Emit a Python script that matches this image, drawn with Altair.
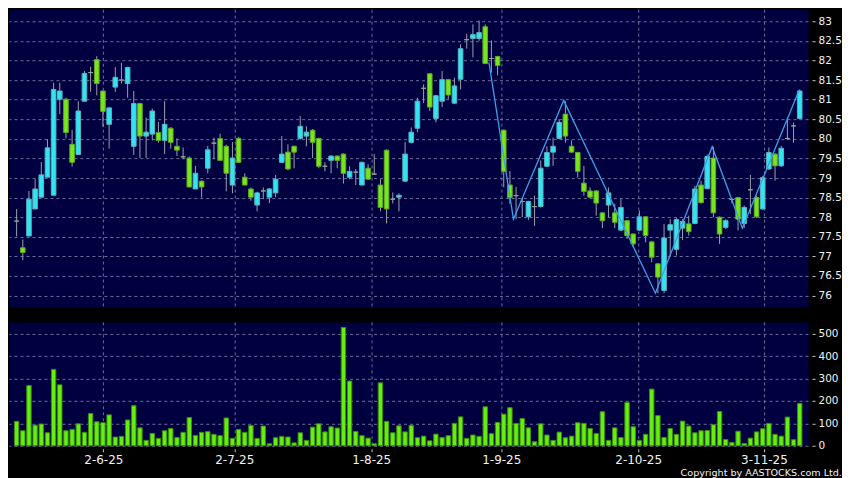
import altair as alt
import pandas as pd

# ---------------- data ----------------
idx = list(range(1, 129))
opens = [77.90, 77.22, 77.52, 78.21, 78.51, 79.02, 78.56, 81.01, 81.01, 79.86,
         79.60, 80.96, 81.69, 82.02, 81.22, 80.37, 81.32, 81.50, 81.41, 79.81,
         80.90, 80.07, 80.12, 80.16, 79.96, 80.27, 79.81, 79.54, 79.51, 78.72,
         78.92, 79.25, 79.89, 80.01, 79.81, 78.82, 80.01, 79.02, 78.72, 78.31,
         78.67, 78.51, 78.62, 79.40, 79.66, 79.81, 80.01, 80.07, 80.22, 80.01,
         79.30, 79.45, 79.56, 79.61, 79.02, 79.15, 78.82, 79.25, 79.10, 78.82,
         79.71, 78.46, 78.51, 78.92, 79.91, 80.27, 81.29, 81.66, 80.52, 80.96,
         81.51, 80.91, 81.52, 82.53, 82.56, 82.56, 82.86, 82.05, 82.10, 80.22,
         78.82, 78.55, 78.40, 78.01, 78.27, 78.27, 79.30, 79.66, 80.01, 80.63,
         79.81, 79.65, 78.87, 78.67, 78.67, 78.11, 78.31, 78.11, 77.67, 77.91,
         77.57, 77.67, 78.01, 77.37, 76.81, 76.13, 77.67, 77.18, 77.72, 77.83,
         77.84, 78.82, 78.73, 79.51, 78.00, 77.74, 78.45, 78.50, 77.84, 78.70,
         78.50, 78.21, 79.23, 79.61, 79.31, 80.01, 80.33, 80.52]
highs = [78.21, 77.43, 78.67, 78.97, 79.41, 79.99, 81.43, 81.43, 81.05, 80.23,
         80.96, 81.73, 81.84, 82.11, 81.22, 80.80, 81.83, 81.94, 81.84, 81.22,
         80.92, 80.54, 80.77, 80.43, 80.96, 80.30, 80.01, 79.78, 79.55, 79.31,
         78.94, 79.82, 80.03, 80.13, 79.85, 79.92, 80.05, 79.12, 78.76, 78.65,
         78.76, 78.74, 79.08, 80.07, 79.86, 79.83, 80.58, 80.32, 80.25, 80.03,
         79.40, 79.58, 79.58, 79.63, 79.30, 79.23, 79.42, 79.35, 79.61, 78.97,
         79.73, 78.63, 78.61, 79.92, 80.29, 81.05, 81.39, 81.68, 81.12, 81.73,
         81.53, 81.56, 82.41, 82.68, 82.92, 83.02, 82.92, 82.51, 82.12, 80.24,
         79.18, 78.77, 78.50, 78.42, 78.55, 79.45, 79.81, 80.03, 80.50, 80.96,
         79.96, 79.67, 79.31, 78.76, 78.69, 78.13, 78.76, 78.34, 78.46, 77.93,
         77.59, 78.17, 78.03, 77.39, 76.83, 77.83, 77.95, 77.99, 77.95, 78.04,
         78.80, 78.93, 79.60, 79.80, 78.02, 77.95, 78.50, 78.52, 78.30, 79.08,
         78.55, 79.05, 79.78, 79.63, 79.82, 80.54, 80.42, 81.26]
lows = [77.51, 76.90, 77.52, 78.21, 78.51, 79.02, 78.56, 80.63, 80.01, 79.29,
        79.60, 80.96, 81.20, 81.11, 80.30, 79.75, 81.20, 81.41, 81.05, 79.59,
        79.51, 79.51, 79.96, 79.90, 79.61, 79.75, 79.56, 79.48, 78.77, 78.72,
        78.50, 79.12, 79.48, 79.45, 78.66, 78.61, 79.40, 78.82, 78.42, 78.15,
        78.46, 78.36, 78.51, 79.38, 79.20, 79.25, 79.98, 79.81, 79.51, 79.25,
        79.17, 79.12, 79.25, 78.86, 78.97, 78.82, 78.82, 78.95, 79.08, 78.15,
        77.84, 78.35, 78.15, 78.90, 79.88, 80.17, 80.91, 80.71, 80.42, 80.81,
        81.01, 80.89, 81.26, 82.30, 82.08, 82.50, 81.92, 81.69, 81.62, 78.76,
        78.34, 77.95, 78.00, 77.93, 77.78, 78.25, 79.28, 79.31, 79.99, 79.90,
        79.64, 79.01, 78.55, 78.49, 78.04, 77.72, 78.00, 77.72, 77.65, 77.45,
        77.25, 77.65, 77.36, 76.85, 76.06, 76.06, 77.00, 77.02, 77.42, 77.53,
        77.82, 78.35, 78.71, 78.00, 77.32, 77.70, 78.35, 77.66, 77.72, 78.08,
        77.98, 78.19, 79.21, 78.93, 79.29, 79.97, 79.90, 80.50]
closes = [77.90, 77.10, 78.46, 78.72, 79.08, 79.77, 81.26, 81.22, 80.16, 79.40,
          80.71, 81.67, 81.69, 81.41, 80.70, 80.79, 81.57, 81.50, 81.82, 80.90,
          80.07, 80.17, 80.71, 79.96, 80.37, 79.91, 79.71, 79.54, 78.77, 79.12,
          78.77, 79.72, 79.89, 79.45, 79.12, 79.51, 79.40, 78.82, 78.51, 78.62,
          78.67, 78.72, 78.97, 79.61, 79.23, 79.66, 80.32, 80.17, 79.91, 79.30,
          79.30, 79.56, 79.45, 79.12, 79.17, 79.15, 79.40, 78.97, 79.10, 78.25,
          78.21, 78.46, 78.56, 79.61, 80.17, 80.96, 81.29, 80.81, 81.10, 81.51,
          81.12, 81.35, 82.30, 82.53, 82.66, 82.71, 81.92, 82.05, 81.87, 79.17,
          78.50, 78.55, 78.40, 78.40, 78.27, 79.25, 79.65, 79.81, 80.42, 80.07,
          79.66, 79.17, 78.66, 78.51, 78.36, 77.91, 78.62, 77.87, 78.25, 77.53,
          77.32, 78.01, 77.53, 76.98, 76.47, 77.47, 77.81, 77.94, 77.89, 77.63,
          78.72, 78.37, 79.55, 78.11, 77.57, 77.91, 78.45, 77.95, 78.25, 78.70,
          78.01, 79.01, 79.65, 79.31, 79.76, 80.01, 80.33, 81.22]
volumes = [109, 67, 269, 92, 97, 58, 341, 272, 67, 73,
           98, 60, 144, 107, 103, 138, 39, 42, 115, 179,
           80, 24, 55, 33, 67, 77, 37, 60, 126, 46,
           60, 63, 51, 45, 124, 33, 73, 60, 91, 33,
           88, 9, 36, 42, 39, 13, 58, 24, 83, 98,
           62, 85, 79, 528, 289, 64, 45, 34, 9, 281,
           109, 58, 89, 62, 91, 36, 43, 22, 52, 37,
           45, 100, 129, 33, 48, 42, 174, 54, 104, 141,
           170, 100, 122, 80, 18, 98, 48, 24, 61, 36,
           43, 103, 100, 77, 55, 152, 24, 80, 37, 193,
           85, 24, 51, 253, 135, 37, 77, 51, 110, 88,
           58, 67, 68, 94, 153, 28, 15, 65, 10, 34,
           62, 76, 100, 51, 43, 128, 27, 189]

# zigzag indicator turning points (bar position, price)
zz_x = [77.6, 81.57, 89.72, 104.6, 113.8, 118.7, 127.9]
zz_y = [81.95, 77.95, 80.98, 76.06, 79.80, 77.72, 81.24]

tick_pos = [15.06, 36.3, 58.5, 79.6, 101.8, 122.2]
tick_labels = ["2-6-25", "2-7-25", "1-8-25", "1-9-25", "2-10-25", "3-11-25"]
price_ticks = [76, 76.5, 77, 77.5, 78, 78.5, 79, 79.5, 80, 80.5, 81, 81.5, 82, 82.5, 83]
vol_ticks = [0, 100, 200, 300, 400, 500]

# ---------------- tables ----------------
df = pd.DataFrame({"i": idx, "open": opens, "high": highs, "low": lows,
                   "close": closes, "vol": volumes})
df["dir"] = ["up" if c > o else ("down" if c < o else "flat")
             for o, c in zip(df["open"], df["close"])]
zz = pd.DataFrame({"i": zz_x, "p": zz_y})

label_expr = " : ".join(
    [f"datum.value < {p + 1} ? '{l}'" for p, l in zip(tick_pos[:-1], tick_labels[:-1])]
) + f" : '{tick_labels[-1]}'"

W = 800
FONT = "DejaVu Sans"
TXT = "#f2f2f2"
GRID = "#7a7aa6"

x_scale = alt.Scale(domain=[0.573, 128.54], nice=False, zero=False)
price_scale = alt.Scale(domain=[75.71, 83.306], nice=False, zero=False)

x_axis_price = alt.Axis(values=tick_pos, labels=False, ticks=False, domain=False,
                        grid=True, title=None)
y_axis_price = alt.Axis(orient="right", values=price_ticks, format="~g", title=None,
                        offset=4, tickSize=3, labelPadding=3, grid=True,
                        labelOverlap=False)


def px(field):
    return alt.X(field, type="quantitative", scale=x_scale, axis=x_axis_price)


def py(field):
    return alt.Y(field, type="quantitative", scale=price_scale, axis=y_axis_price)


fill_scale = alt.Scale(domain=["up", "down", "flat"],
                       range=["#33E4F0", "#77E61E", "#7f9f6f"])
stroke_scale = alt.Scale(domain=["up", "down", "flat"],
                         range=["#58b4bf", "#5fa825", "#95a595"])

base = alt.Chart(df)
wicks = base.mark_rule(color="#9aa2aa", strokeWidth=1).encode(
    x=px("i"), y=py("low"), y2="high:Q")
bodies = base.mark_bar(size=4.6, strokeWidth=1).encode(
    x=px("i"),
    y=py("open"),
    y2="close:Q",
    fill=alt.Fill("dir:N", scale=fill_scale, legend=None),
    stroke=alt.Stroke("dir:N", scale=stroke_scale, legend=None),
)
zigzag = alt.Chart(zz).mark_line(color="#3e9ee6", strokeWidth=1.3).encode(
    x=px("i"), y=py("p"))

price = alt.layer(wicks, bodies, zigzag).properties(width=W, height=298)

volume = alt.Chart(df).mark_bar(size=4.4, fill="#66EE11", stroke="#3c8c0c",
                                strokeWidth=1).encode(
    x=alt.X("i:Q", scale=x_scale,
            axis=alt.Axis(values=tick_pos, labelExpr=label_expr, grid=True, domain=False,
                          title=None, offset=3, tickSize=3, labelPadding=3,
                          labelFontSize=12)),
    y=alt.Y("vol:Q", scale=alt.Scale(domain=[0, 553], nice=False),
            axis=alt.Axis(orient="right", values=vol_ticks, title=None, offset=4,
                          tickSize=3, labelPadding=3, grid=True, labelOverlap=False)),
).properties(width=W, height=124)

chart = alt.vconcat(price, volume, spacing=13).properties(
    padding={"left": 0, "top": 0, "right": 0, "bottom": 0},
    background="#000000",
    title=alt.TitleParams(text="Copyright by AASTOCKS.com Ltd.", orient="bottom",
                          anchor="end", fontSize=9.6, font=FONT, color=TXT,
                          fontWeight="normal", offset=2),
).configure_view(
    fill="#000040", stroke="transparent"
).configure_axis(
    gridColor=GRID, gridDash=[3, 3], gridWidth=1, gridOpacity=0.9,
    labelColor=TXT, labelFont=FONT, labelFontSize=10.5,
    tickColor="#c8c8c8", domain=False,
).configure_axisX(
    labelFontSize=12,
)

chart.save("out.html", embed_options={"renderer": "svg", "actions": False})
